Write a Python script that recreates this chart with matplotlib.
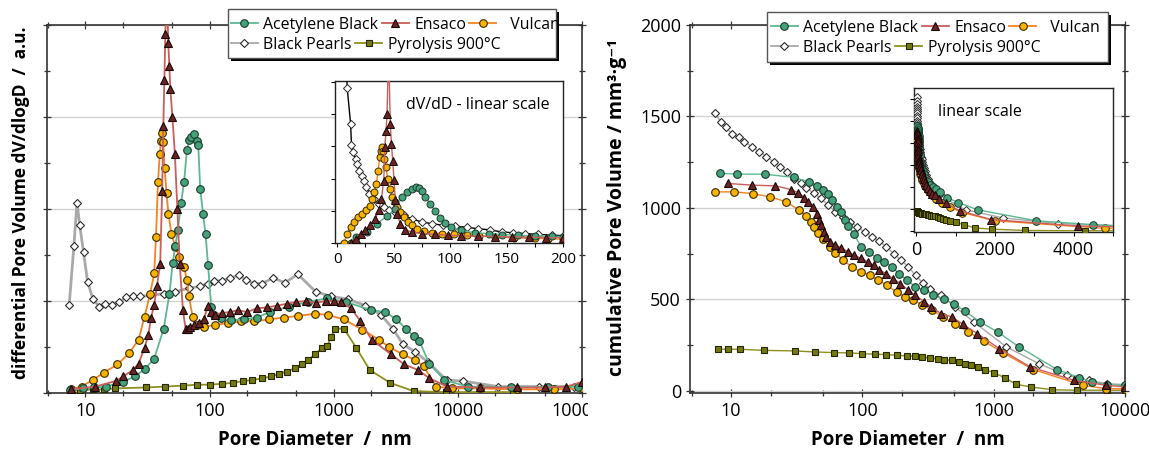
import matplotlib
matplotlib.use("Agg")
import matplotlib.pyplot as plt
from matplotlib.patches import Rectangle
from matplotlib.lines import Line2D
from matplotlib.ticker import NullFormatter, MultipleLocator
from matplotlib.transforms import Bbox, TransformedBbox

plt.rcParams['font.family'] = ['Open Sans', 'DejaVu Sans']

# ---- differential pore volume dV/dlogD (a.u.), log scale ----
ab_d = [7.5, 9.5, 11.8, 14.6, 20, 25, 30, 35.7, 42.7, 47.5, 50.4, 53, 55.5, 58.8, 62.3, 65.6, 68.5,
        71.4, 74.6, 78.5, 81, 84, 88.6, 92.7, 97.2, 103, 108, 124, 150, 190, 240, 305, 435, 620, 890,
        1260, 2000, 2600, 3200, 3800, 4400, 4900, 5900, 7800, 12000, 27000, 53000, 93000]
ab_v = [0.03, 0.05, 0.06, 0.07, 0.12, 0.18, 0.26, 0.37, 0.70, 1.08, 1.41, 1.60, 1.77, 2.06, 2.29, 2.64, 2.75,
        2.78, 2.82, 2.74, 2.70, 2.22, 1.95, 1.73, 1.39, 0.94, 0.85, 0.81, 0.79, 0.80, 0.82, 0.88, 0.94, 0.99, 1.03,
        0.99, 0.90, 0.88, 0.80, 0.70, 0.62, 0.56, 0.32, 0.14, 0.07, 0.065, 0.065, 0.07]

en_d = [7.7, 12, 17.5, 20.2, 24.1, 26.8, 29.9, 32.1, 33.7, 35.8, 37.6, 40, 41.5, 42.4, 43.2, 44, 45.2,
        46.5, 47.4, 48.3, 50.2, 52.5, 55, 57.5, 61, 64, 67, 70, 75, 82, 90, 97, 103, 110, 125, 145, 170,
        200, 240, 290, 350, 420, 500, 600, 720, 860, 1000, 1150, 1380, 1640, 2020, 2900, 3700, 4800, 5900,
        8200, 15000, 30000, 50000, 75000, 100000]
en_v = [0.04, 0.07, 0.13, 0.18, 0.25, 0.32, 0.49, 0.63, 0.81, 0.96, 1.16, 1.40, 2.20, 2.90, 3.40, 3.90, 4.40,
        3.80, 3.55, 3.30, 3.00, 2.60, 2.00, 1.40, 0.90, 0.70, 0.70, 0.72, 0.74, 0.76, 0.80, 0.95, 0.88, 0.85,
        0.87, 0.88, 0.90, 0.88, 0.92, 0.93, 0.95, 0.97, 0.99, 1.00, 0.98, 1.00, 1.00, 0.99, 0.92, 0.78, 0.58,
        0.42, 0.31, 0.25, 0.16, 0.07, 0.06, 0.06, 0.06, 0.07, 0.12]

vu_d = [7.7, 9.3, 11.4, 14, 18.1, 22.4, 26.8, 29.9, 33.2, 35.8, 37, 38.4, 39.7, 40.6, 41.3, 42.2, 43.4,
        45, 46.6, 49.3, 53, 57, 62.3, 65.6, 68.1, 73, 78.5, 90, 110, 140, 180, 230, 300, 400, 520, 700,
        900, 1200, 1700, 2300, 2800, 3600, 4500, 5300, 6700, 9000, 15000, 30000, 60000, 100000]
vu_v = [0.04, 0.07, 0.14, 0.22, 0.31, 0.43, 0.58, 0.83, 1.08, 1.30, 1.70, 2.29, 2.60, 2.74, 2.83, 2.73, 2.45,
        2.17, 1.95, 1.73, 1.59, 1.48, 1.37, 1.23, 1.05, 0.83, 0.74, 0.72, 0.74, 0.76, 0.78, 0.78, 0.80, 0.82,
        0.84, 0.86, 0.85, 0.80, 0.69, 0.58, 0.50, 0.42, 0.36, 0.29, 0.07, 0.05, 0.05, 0.04, 0.04, 0.05]

bp_d = [7.4, 8.07, 8.55, 8.98, 9.65, 10.4, 11.5, 12.9, 14.3, 16.3, 18.8, 21.3, 24.1, 27.4, 33.3, 42.7,
        52.9, 68, 84, 97, 108, 125, 147, 172, 198, 229, 264, 325, 405, 514, 717, 955, 1300, 1800, 2400,
        3000, 3600, 4500, 5700, 8100, 11000, 21000, 45000, 86000]
bp_v = [0.96, 1.60, 2.07, 1.83, 1.53, 1.21, 1.02, 0.94, 0.97, 0.96, 0.99, 1.04, 1.05, 1.05, 1.06, 1.08,
        1.10, 1.14, 1.16, 1.19, 1.22, 1.22, 1.25, 1.28, 1.23, 1.19, 1.19, 1.25, 1.20, 1.29, 1.10, 1.05, 1.02,
        0.95, 0.85, 0.70, 0.53, 0.45, 0.34, 0.14, 0.13, 0.07, 0.07, 0.07]

py_d = [7.5, 9, 11.4, 14, 17.4, 30.5, 44, 61, 79, 100, 125, 155, 185, 220, 265, 315, 365, 420, 485, 555,
        620, 710, 800, 890, 950, 1030, 1210, 1520, 1950, 2850, 4400, 8000, 28000]
py_v = [0.02, 0.03, 0.04, 0.04, 0.05, 0.06, 0.07, 0.08, 0.09, 0.09, 0.10, 0.11, 0.13, 0.14, 0.16, 0.18,
        0.21, 0.23, 0.27, 0.31, 0.36, 0.42, 0.49, 0.51, 0.61, 0.70, 0.70, 0.49, 0.25, 0.11, 0.02, 0.01, 0.01]

# ---- inset: dV/dD, linear scale ----
ab_i_d = [12, 16.2, 26.5, 35.3, 44.1, 51.5, 57.4, 61.8, 66.2, 69.7, 72, 75, 77.9, 82.4, 86.8, 91.2, 95.6,
          101, 110, 122, 134, 146, 160, 175, 190, 200]
ab_i_v = [0.0, 0.19, 0.34, 0.60, 0.84, 1.06, 1.42, 1.58, 1.68, 1.75, 1.71, 1.61, 1.42, 1.22, 0.99, 0.78,
          0.62, 0.49, 0.39, 0.32, 0.29, 0.26, 0.24, 0.22, 0.21, 0.20]
en_i_d = [11.8, 16.2, 20.6, 25, 29.4, 33.8, 36.8, 39.1, 41.2, 42.1, 43.2, 44.1, 45.5, 47, 48, 49.1, 50.3,
          51.5, 52.9, 55.9, 60.3, 66.2, 75, 86.8, 98.5, 110, 125, 140, 155, 170, 185, 200]
en_i_v = [0.0, 0.13, 0.29, 0.41, 0.55, 0.75, 1.01, 1.37, 1.94, 2.97, 3.48, 4.0, 6.0, 3.69, 3.07, 2.56, 1.95,
          1.32, 0.91, 0.60, 0.41, 0.34, 0.29, 0.27, 0.24, 0.22, 0.21, 0.20, 0.19, 0.18, 0.17, 0.16]
vu_i_d = [5.9, 8.8, 11.8, 14.7, 18.5, 22, 25.9, 28.8, 30.9, 32.9, 34.7, 36.2, 37.6, 38.8, 39.7, 40.6, 41.8,
          43.2, 44.7, 46.5, 48.5, 50.9, 52.9, 55.9, 58.8, 62.6, 66.2, 70.6, 76.5, 83.8, 92.6, 103, 115, 126,
          140, 157, 175, 187, 200]
vu_i_v = [0.0, 0.29, 0.49, 0.65, 0.80, 0.91, 1.01, 1.16, 1.37, 1.58, 1.84, 2.25, 2.66, 2.87, 2.97, 2.87,
          2.61, 2.35, 1.99, 1.68, 1.42, 1.27, 1.11, 0.96, 0.80, 0.65, 0.55, 0.44, 0.36, 0.32, 0.29, 0.27,
          0.24, 0.22, 0.19, 0.16, 0.15, 0.13, 0.12]
bp_i_d = [8, 8.8, 11.8, 12.6, 14.1, 16.2, 17.6, 19.7, 21.5, 23.5, 25.9, 28.5, 32.4, 36.8, 41.2, 45.6, 51.5,
          58.8, 66.2, 75, 83.8, 94, 104, 115, 125, 135, 146, 156, 166, 178, 190, 200]
bp_i_v = [5.6, 4.82, 3.71, 3.05, 2.81, 2.61, 2.45, 2.25, 2.09, 1.94, 1.73, 1.53, 1.37, 1.22, 1.11, 1.03,
          0.96, 0.86, 0.75, 0.65, 0.60, 0.55, 0.52, 0.49, 0.44, 0.41, 0.34, 0.32, 0.29, 0.27, 0.24, 0.23]

# ---- cumulative pore volume (mm3/g) ----
ab_c_d = [8.3, 11.1, 18, 30, 39.4, 45.4, 50, 55, 58.5, 64.3, 68.5, 73.2, 78, 86, 97.7, 113, 130, 147, 167,
          190, 220, 253, 297, 348, 420, 495, 600, 788, 1070, 1560, 3050, 4500, 5600, 7300, 10000]
ab_c_v = [1189, 1185, 1185, 1167, 1143, 1119, 1098, 1079, 1043, 1006, 979, 933, 901, 860, 788, 757, 724,
          706, 678, 642, 605, 569, 551, 523, 500, 478, 438, 377, 323, 241, 117, 73, 49, 35, 30]
en_c_d = [9.5, 14.4, 21.8, 28.6, 32.5, 36.2, 38.6, 42, 45.4, 47, 48.3, 50.8, 53.2, 56.6, 62.3, 68.5, 78,
          87, 97.7, 111, 122, 134, 152, 171, 195, 224, 253, 297, 335, 397, 481, 580, 750, 1100, 1900, 4100,
          7200, 10000]
en_c_v = [1134, 1125, 1121, 1101, 1083, 1057, 1034, 1006, 966, 933, 906, 870, 839, 815, 797, 784, 760,
          742, 724, 706, 687, 660, 642, 614, 587, 551, 523, 487, 459, 423, 405, 365, 314, 232, 131, 58, 31, 22]
vu_c_d = [7.6, 10.6, 14.6, 19.8, 26.3, 33, 37.4, 40.4, 43, 45.9, 49.8, 56.6, 62.3, 71.6, 83, 97.7, 114,
          132, 154, 182, 213, 245, 287, 342, 410, 510, 640, 843, 1170, 2000, 4800, 7200, 10000]
vu_c_v = [1088, 1088, 1079, 1061, 1034, 988, 955, 924, 897, 866, 833, 788, 755, 715, 678, 651, 633, 605,
          578, 541, 514, 496, 469, 441, 405, 365, 323, 273, 210, 117, 31, 13, 12]
bp_c_d = [7.5, 8.4, 9.2, 10.1, 11.4, 12.6, 14.4, 16.3, 18.6, 21.1, 23.7, 26.9, 30, 34, 37.5, 42.6, 48.3,
          54.9, 62.3, 70.8, 80.5, 91.4, 104, 118, 134, 152, 173, 197, 224, 254, 288, 328, 397, 510, 705,
          1250, 2200, 3600, 5300, 7300, 10000]
bp_c_v = [1517, 1471, 1440, 1407, 1386, 1362, 1335, 1307, 1280, 1252, 1225, 1198, 1161, 1138, 1107, 1083,
          1052, 1016, 979, 952, 924, 897, 870, 842, 820, 788, 751, 715, 678, 633, 591, 560, 523, 459, 377,
          241, 150, 86, 58, 40, 35]
py_c_d = [7.97, 9.5, 11.7, 17.7, 30.5, 43.9, 60.4, 79.4, 100, 125, 152, 184, 220, 250, 287, 328, 376, 420,
          480, 548, 600, 667, 760, 865, 1000, 1210, 1490, 1930, 2770, 4300, 7300, 10000]
py_c_v = [228, 228, 228, 222, 219, 213, 210, 208, 204, 201, 199, 195, 191, 190, 186, 180, 175, 171, 168,
          159, 150, 140, 131, 117, 100, 73, 36, 22, 7, 4, 4, 4]

styles = {
    'Acetylene Black': dict(color='#5db892', marker='o', mfc='#44a27b', mec='#1c3a2c', ms=5.5),
    'Ensaco': dict(color='#c95e5b', marker='^', mfc='#6a2424', mec='#160808', ms=6),
    'Vulcan': dict(color='#f5821f', marker='o', mfc='#f6b400', mec='#3a2a00', ms=5.5),
    'Black Pearls': dict(color='#a9a9a9', marker='D', mfc='white', mec='#2a2a2a', ms=4.5),
    'Pyrolysis 900°C': dict(color='#8f8f1c', marker='s', mfc='#737a0b', mec='#252500', ms=5),
}

W, H = 1149, 450
fig = plt.figure(figsize=(W / 100, H / 100), dpi=100)


def box(l, t, r, b):
    return [l / W, 1 - b / H, (r - l) / W, (b - t) / H]


ax1 = fig.add_axes(box(47, 25, 582, 393))
ax2 = fig.add_axes(box(690, 25, 1125, 393))
ins1 = fig.add_axes(box(335, 81, 563, 243))
ins2 = fig.add_axes(box(914, 88, 1113, 232))

order = ['Black Pearls', 'Pyrolysis 900°C', 'Vulcan', 'Acetylene Black', 'Ensaco']
main = {'Acetylene Black': (ab_d, ab_v), 'Ensaco': (en_d, en_v), 'Vulcan': (vu_d, vu_v),
        'Black Pearls': (bp_d, bp_v), 'Pyrolysis 900°C': (py_d, py_v)}
cum = {'Acetylene Black': (ab_c_d, ab_c_v), 'Ensaco': (en_c_d, en_c_v), 'Vulcan': (vu_c_d, vu_c_v),
       'Black Pearls': (bp_c_d, bp_c_v), 'Pyrolysis 900°C': (py_c_d, py_c_v)}
lin = {'Acetylene Black': (ab_i_d, ab_i_v), 'Ensaco': (en_i_d, en_i_v), 'Vulcan': (vu_i_d, vu_i_v),
       'Black Pearls': (bp_i_d, bp_i_v)}

for name in order:
    st = dict(styles[name])
    x, y = main[name]
    lw = 2.0 if name == 'Black Pearls' else 1.3
    ax1.plot(x, y, lw=lw, mew=0.8, zorder=3, **st)
    x, y = cum[name]
    ax2.plot(x, y, lw=1.0, mew=0.8, zorder=3, **st)
    ins2.plot(x, y, lw=1.0, mew=0.7, zorder=3, **st)
    if name in lin:
        x, y = lin[name]
        if name == 'Black Pearls':
            st['color'] = 'black'
        st['ms'] = st['ms'] - 0.5
        ins1.plot(x, y, lw=1.0, mew=0.7, zorder=3, **st)

# ---- main axes styling ----
for ax in (ax1, ax2):
    ax.set_xscale('log')
    ax.tick_params(which='both', direction='inout', top=True, right=True, labelsize=13,
                   color='#333333', width=0.9)
    ax.tick_params(which='major', length=6)
    ax.tick_params(which='minor', length=4)
    ax.xaxis.set_minor_formatter(NullFormatter())
    ax.grid(axis='y', which='major', color='#d2d2d2', lw=1.0, zorder=0)
    for s in ax.spines.values():
        s.set_color('#333333')
        s.set_linewidth(1.2)
    ax.set_xlabel('Pore Diameter  /  nm', fontsize=13.5, fontweight='bold', labelpad=7)

ax1.set_xlim(4.9, 1.0e5)
ax1.set_xticks([10, 100, 1000, 10000, 100000], ['10', '100', '1000', '10000', '100000'])
ax1.set_xticks([5, 20, 50, 200, 500, 2000, 5000, 20000, 50000], minor=True)
ax1.set_ylim(0, 4)
ax1.set_yticks([0, 1, 2, 3, 4], [])
ax1.yaxis.set_minor_locator(MultipleLocator(0.5))

ax2.set_xlim(4.87, 10000)
ax2.set_xticks([10, 100, 1000, 10000], ['10', '100', '1000', '10000'])
ax2.set_xticks([5, 20, 50, 200, 500, 2000, 5000], minor=True)
ax2.set_ylim(-11, 2000)
ax2.set_yticks([0, 500, 1000, 1500, 2000])
ax2.yaxis.set_minor_locator(MultipleLocator(250))

# right tick label of left panel is cut by the panel border
clip = TransformedBbox(Bbox.from_extents(0, 0, 588 / W, 1), fig.transFigure)
for lab in ax1.get_xticklabels():
    lab.set_clip_box(clip)
    lab.set_clip_on(True)

fig.text(21 / W, 1 - 203 / H, 'differential Pore Volume dV/dlogD  /  a.u.', rotation=90,
         ha='center', va='center', fontsize=12.5, fontweight='bold')
fig.text(617 / W, 1 - 208 / H, 'cumulative Pore Volume / mm³·g⁻¹', rotation=90,
         ha='center', va='center', fontsize=14, fontweight='bold')

# ---- insets ----
ins1.set_xlim(-2, 200)
ins1.set_ylim(0, 5.03)
ins1.set_xticks([0, 50, 100, 150, 200])
ins1.xaxis.set_minor_locator(MultipleLocator(25))
ins1.set_yticks([0, 1, 2, 3, 4, 5], [])
ins1.tick_params(which='both', direction='out', labelsize=11, length=3, width=0.8)
ins1.text(0.31, 0.85, 'dV/dD - linear scale', transform=ins1.transAxes, fontsize=11.5, va='center')

ins2.set_xlim(-60, 5000)
ins2.set_ylim(-10, 1620)
ins2.set_xticks([0, 2000, 4000])
ins2.xaxis.set_minor_locator(MultipleLocator(1000))
ins2.set_yticks([0, 250, 500, 750, 1000, 1250, 1500], [])
ins2.tick_params(which='both', direction='out', labelsize=13, length=3, width=0.8)
ins2.text(0.12, 0.83, 'linear scale', transform=ins2.transAxes, fontsize=11.5, va='center')

for ax in (ins1, ins2):
    for s in ax.spines.values():
        s.set_color('#222222')
        s.set_linewidth(1.0)


# ---- legends with box and shadow ----
def legend_row(names, x, y, labels=None):
    handles = [Line2D([], [], lw=1.3, mew=0.8, **styles[n]) for n in names]
    lg = fig.legend(handles, labels or names, ncol=len(names), loc='center left',
                    bbox_to_anchor=(x / W, 1 - y / H), frameon=False, fontsize=11.4,
                    handlelength=1.7, handletextpad=0.35, columnspacing=0.2,
                    borderpad=0, borderaxespad=0)
    lg.set_zorder(6)


def legend_box(l, t, r, b):
    fig.add_artist(Rectangle((l / W + 3 / W, 1 - (b + 3) / H), (r - l) / W, (b - t) / H,
                             transform=fig.transFigure, fc='black', ec='none', zorder=4))
    fig.add_artist(Rectangle((l / W, 1 - b / H), (r - l) / W, (b - t) / H,
                             transform=fig.transFigure, fc='white', ec='#555555', lw=1.0, zorder=5))


row1 = ['Acetylene Black', 'Ensaco', 'Vulcan']
row2 = ['Black Pearls', 'Pyrolysis 900°C']
lab1 = ['Acetylene Black', 'Ensaco', '  Vulcan']

legend_box(228, 9, 556, 58)
legend_row(row1, 231, 25, lab1)
legend_row(row2, 231, 45)

legend_box(767, 12, 1108, 62)
legend_row(row1, 771, 28, lab1)
legend_row(row2, 771, 48)

fig.savefig('out.png', dpi=100)
